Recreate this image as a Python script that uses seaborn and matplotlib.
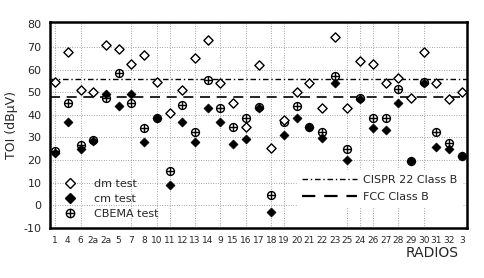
import numpy as np
import pandas as pd
from matplotlib import pyplot as plt
from matplotlib.lines import Line2D
import seaborn as sns

# Radios in the order they are plotted
radios = ["1", "4", "6", "2a", "2a", "5", "7", "8", "10", "11", "12", "13", "14", "9",
          "15", "16", "17", "18", "19", "20", "21", "22", "23", "25", "24", "26", "27",
          "28", "29", "30", "31", "32", "3"]

dm_test = [54.6, 67.8, 51.0, 50.2, 70.9, 69.0, 62.5, 66.5, 54.6, 41.0, 51.0, 65.0, 73.0, 54.2,
           45.4, 34.4, 62.0, 25.2, 37.5, 50.2, 54.2, 43.2, 74.4, 43.2, 63.8, 62.5, 54.2,
           56.4, 47.6, 67.8, 54.2, 47.1, 50.2]
cm_test = [23.0, 37.0, 25.0, 28.5, 49.3, 44.0, 49.3, 28.2, 38.4, 8.9, 37.0, 27.8, 43.2, 37.0,
           27.0, 29.1, 43.2, -3.0, 31.0, 38.4, 34.4, 29.6, 54.2, 19.9, 47.1, 34.0, 33.5,
           45.4, 19.5, 54.2, 26.0, 24.7, 21.6]
cbema_test = [24.0, 45.4, 26.5, 29.0, 47.6, 58.6, 45.4, 34.0, 38.6, 15.0, 44.5, 32.2, 55.5, 43.2,
              34.4, 38.8, 43.5, 4.5, 37.0, 44.0, 34.6, 32.2, 57.3, 24.7, 47.3, 38.4, 38.4,
              51.5, 19.8, 54.4, 32.2, 27.4, 22.0]

cispr22_b = 56
fcc_b = 48

y_ticks = [-10, 0, 10, 20, 30, 40, 50, 60, 70, 80]
grid_idx = [0, 2, 6, 8, 9, 11, 13, 15, 17, 18, 23, 24, 25, 27, 29]

df = pd.DataFrame({"pos": np.arange(len(radios)), "radio": radios,
                   "dm": dm_test, "cm": cm_test, "cbema": cbema_test})

sns.set_theme(style="white")
plt.rcParams['font.family'] = ['DejaVu Sans']

fig = plt.figure(figsize=(4.84, 2.78), dpi=100)
ax = fig.add_axes([50 / 484, 50 / 278, 417 / 484, 206 / 278])

# grid (dotted, sparse like the scan)
for v in y_ticks[1:-1]:
    ax.axhline(v, color="#555555", lw=0.5, ls=(0, (1, 2.5)), zorder=0)
for i in grid_idx:
    ax.axvline(i, color="#555555", lw=0.5, ls=(0, (1, 2.5)), zorder=0)

# limit lines
ax.axhline(cispr22_b, color="black", lw=1.0, ls=(0, (4, 2, 1, 2)), zorder=1)
ax.axhline(fcc_b, color="black", lw=1.2, ls=(0, (6, 4)), zorder=1)

# CBEMA: circle with plus
sns.scatterplot(data=df, x="pos", y="cbema", marker="o", s=32, facecolor="white",
                edgecolor="black", linewidth=1.0, ax=ax, zorder=3)
sns.scatterplot(data=df, x="pos", y="cbema", marker="+", s=28, color="black",
                linewidth=1.0, ax=ax, zorder=4)
sns.scatterplot(data=df, x="pos", y="cm", marker="D", s=22, color="black",
                edgecolor="black", ax=ax, zorder=5)
sns.scatterplot(data=df, x="pos", y="dm", marker="D", s=22, facecolor="white",
                edgecolor="black", linewidth=1.0, ax=ax, zorder=5)

ax.set_xlim(-0.4, len(radios) - 0.6)
ax.set_ylim(-10, 81)
ax.set_xticks(df["pos"])
ax.set_xticklabels(radios, fontsize=6.5)
ax.set_yticks(y_ticks)
ax.set_yticklabels([str(v) for v in y_ticks], fontsize=8)
ax.tick_params(length=0, pad=6)
ax.set_xlabel("")
ax.set_ylabel("TOI (dBμV)", fontsize=9, labelpad=4)
for s in ax.spines.values():
    s.set_linewidth(1.8)
    s.set_color("black")

fig.text(432 / 484, 1 - 253 / 278, "RADIOS", fontsize=10, ha="center", va="center")

# legends
cb_handle = (Line2D([], [], marker="o", ls="", mfc="white", mec="black", ms=6),
             Line2D([], [], marker="+", ls="", color="black", ms=5.5))
h1 = [Line2D([], [], marker="D", ls="", mfc="white", mec="black", ms=5),
      Line2D([], [], marker="D", ls="", mfc="black", mec="black", ms=5),
      cb_handle]
leg1 = ax.legend(h1, ["dm test", "cm test", "CBEMA test"], loc="lower left",
                 bbox_to_anchor=(0.0, 0.0), frameon=False, fontsize=8,
                 handletextpad=1.2, labelspacing=0.45, borderpad=0.3)
ax.add_artist(leg1)
h2 = [Line2D([], [], color="black", lw=1.0, ls=(0, (4, 2, 1, 2))),
      Line2D([], [], color="black", lw=1.6, ls=(0, (6, 4)))]
leg2 = ax.legend(h2, ["CISPR 22 Class B", "FCC Class B"], loc="lower right",
                 bbox_to_anchor=(1.0, 0.08), frameon=True, fontsize=8,
                 handlelength=5, handletextpad=0.5, labelspacing=0.6, fancybox=False)
leg2.get_frame().set_edgecolor("white")
leg2.get_frame().set_facecolor("white")
leg2.get_frame().set_alpha(1)

plt.savefig("out.png", dpi=100)
